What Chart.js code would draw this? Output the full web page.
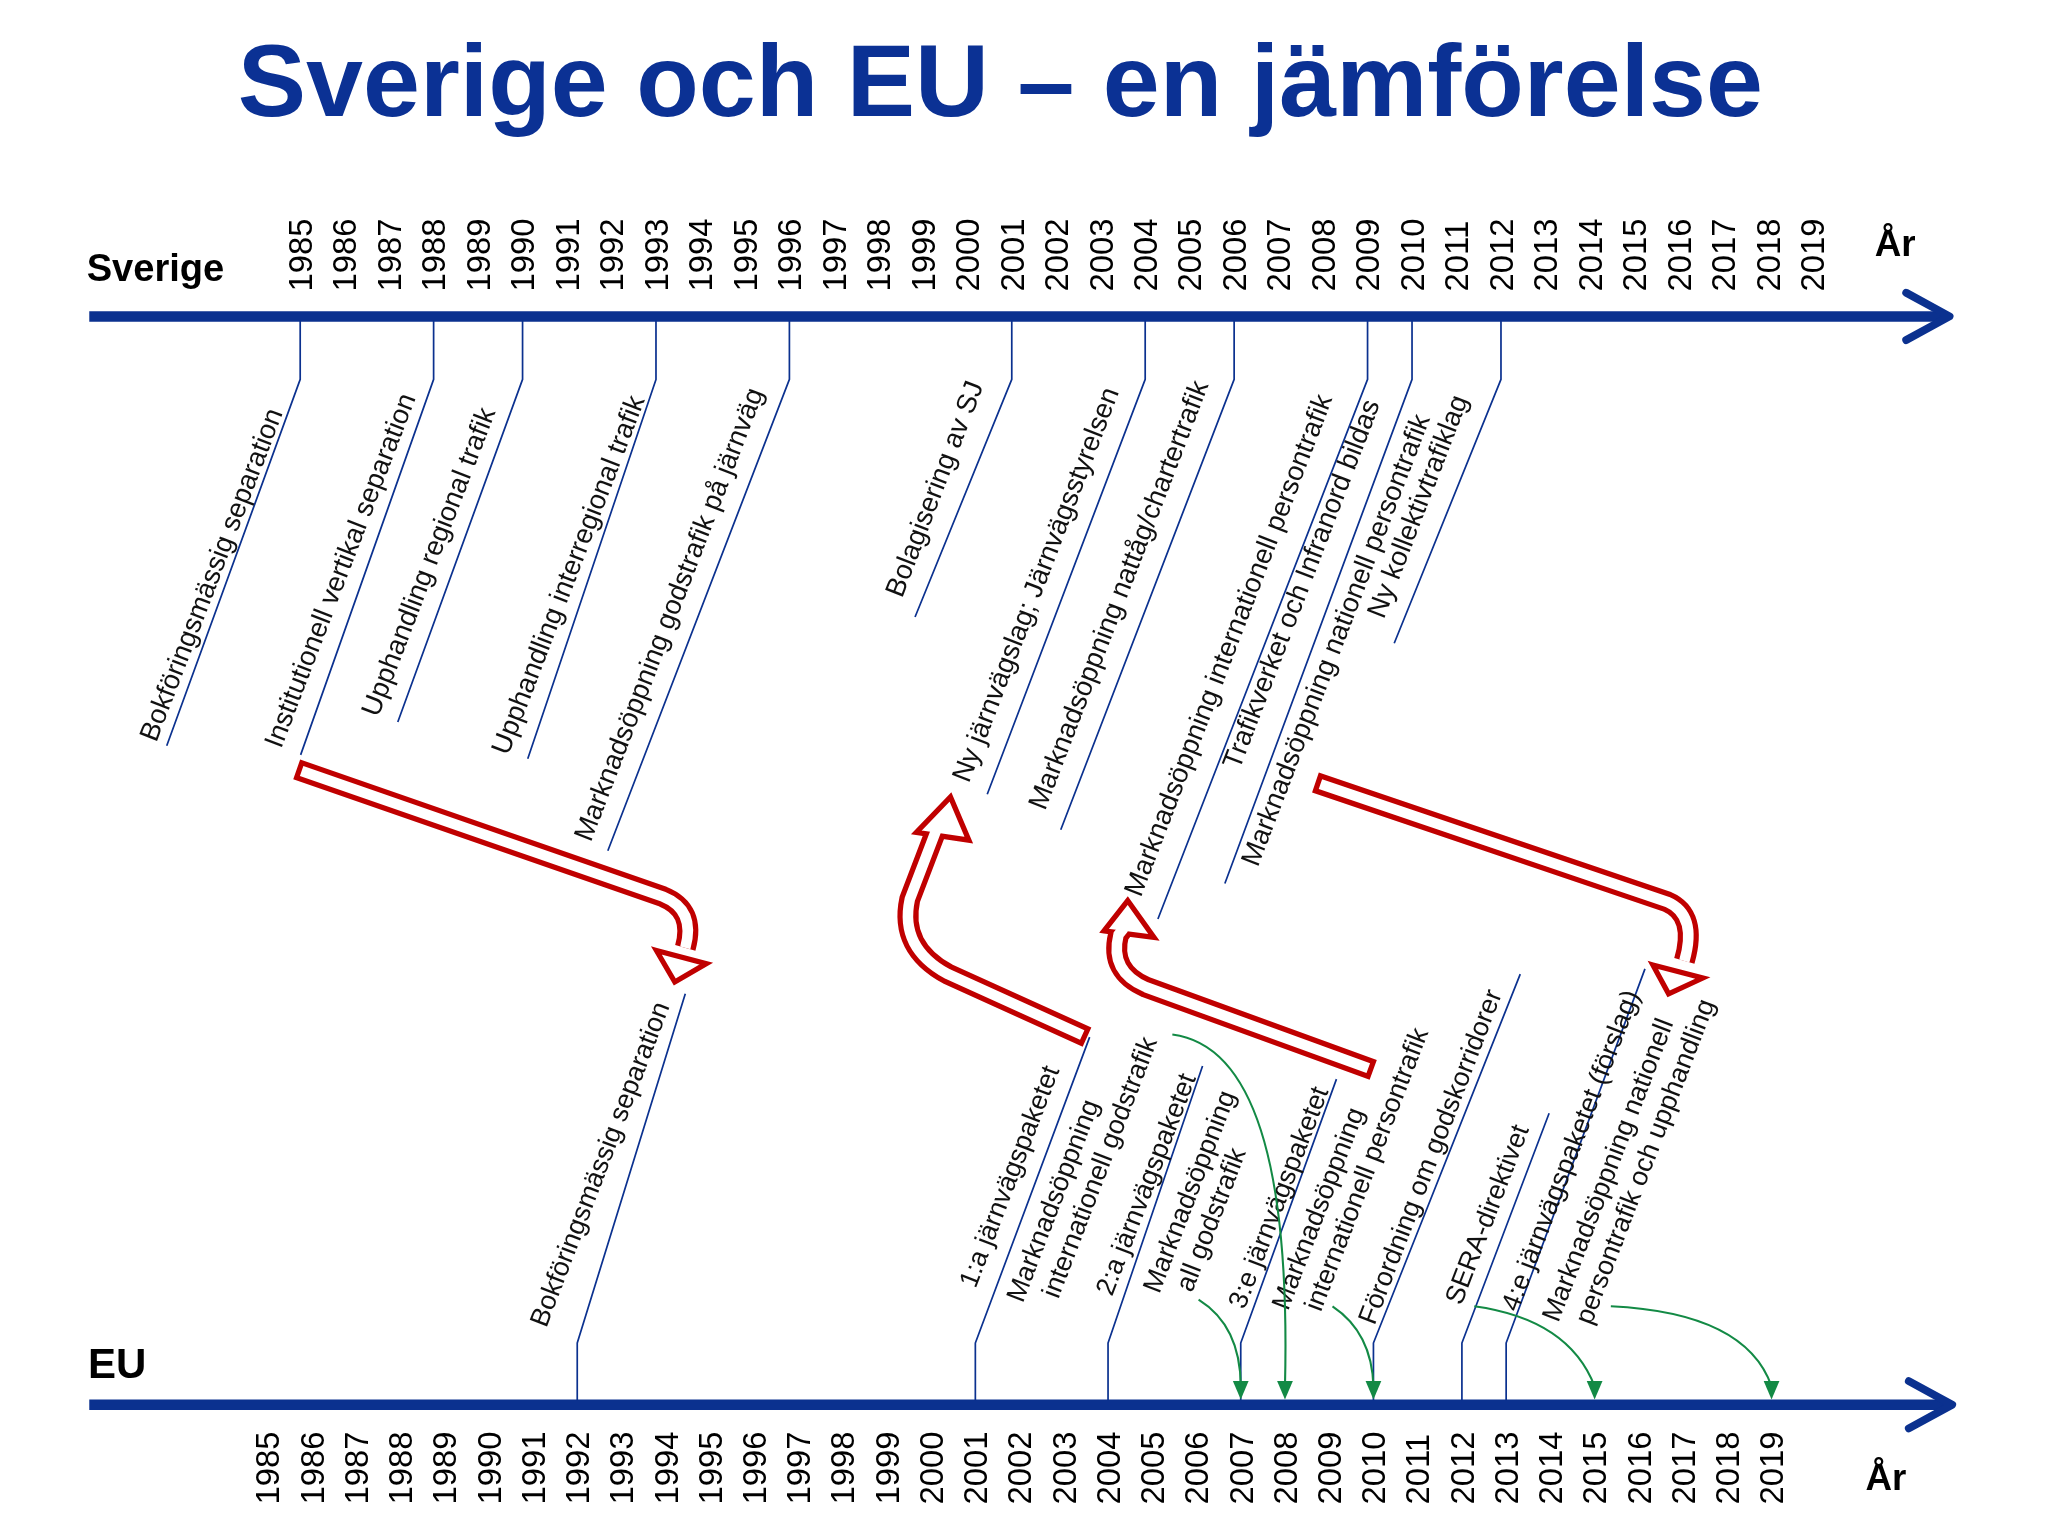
<!DOCTYPE html>
<html><head><meta charset="utf-8">
<script src="https://cdn.jsdelivr.net/npm/chart.js@4/dist/chart.umd.min.js"></script>
<style>html,body{margin:0;padding:0;background:#fff}#wrap{width:2048px;height:1536px}</style>
</head><body><div id="wrap"><canvas id="c" width="2048" height="1536"></canvas></div>
<script>
// ---- data ----
const years = Array.from({length: 35}, (_, i) => 1985 + i);
const tickLabels = years.map(String);
const sweYears = [1985, 1988, 1990, 1993, 1996, 2001, 2004, 2006, 2009, 2010, 2010, 2012];
const sweLabels = ["Bokföringsmässig separation","Institutionell vertikal separation","Upphandling regional trafik","Upphandling interregional trafik","Marknadsöppning godstrafik på järnväg","Bolagisering av SJ","Ny järnvägslag; Järnvägsstyrelsen","Marknadsöppning nattåg/chartertrafik","Marknadsöppning internationell persontrafik","Trafikverket och Infranord bildas","Marknadsöppning nationell persontrafik","Ny kollektivtrafiklag"];
const euYears = [1992, 2001, 2004, 2007, 2010, 2012, 2013];
const euLabels = ["Bokföringsmässig separation","1:a järnvägspaketet","Marknadsöppning","internationell godstrafik","2:a järnvägspaketet","Marknadsöppning","all godstrafik","3:e järnvägspaketet","Marknadsöppning","internationell persontrafik","Förordning om godskorridorer","SERA-direktivet","4:e järnvägspaketet (förslag)","Marknadsöppning nationell","persontrafik och upphandling"];
const euTargetYears = [2007, 2008, 2010, 2015, 2019]; // green arrows

// ---- layout (display units, scaled to canvas) ----
const S = 2048 / 1560;
const sweLeaderEnd = [[127,568],[229,575],[303,550],[402,578],[463,648],[697,470],[752,605],[808,632],[882,700],[933,673],null,[1062,490]];
const sweTextStart = [[119,566],[214,571],[288,547],[387,576],[450,642],[687,456],[738,597],[796,618],[869,684],[944,587],[958,661],[1054,472]];
const euLeaderEnd = [[522,757],[830,790],[916,812],[1018,822],[1158,742],[1180,848],[1253,738]];
const euTextStart = [[416,1012],[743,982],[779,993],[806,990],[847,988],[883,986],[908,985],[948,998],[981,999],[1006,1000],[1047,1010],[1113,995],[1156,1000],[1187,1008],[1212,1010]];
const greenFrom = [[913,990,945,1010],[893,788,985,800],[1015,995,1045,1015],[1123,995,1195,1005],[1227,995,1330,1000]];

const BLUE = '#0b318f', RED = '#c00000', GREEN = '#138a45';
const F = 'Liberation Sans, Arial, sans-serif';

function rotText(ctx, t, x, y, size, ang) {
  ctx.save(); ctx.translate(x, y); ctx.rotate(-ang * Math.PI / 180);
  ctx.font = size + 'px ' + F; ctx.textAlign = 'left'; ctx.textBaseline = 'alphabetic';
  ctx.fillText(t, 0, 0); ctx.restore();
}
function axisArrow(ctx, y, x0, x1) {
  ctx.strokeStyle = BLUE; ctx.lineWidth = 8; ctx.lineCap = 'butt';
  ctx.beginPath(); ctx.moveTo(x0, y); ctx.lineTo(x1 - 4, y); ctx.stroke();
  ctx.lineWidth = 6; ctx.lineCap = 'round'; ctx.lineJoin = 'round';
  ctx.beginPath(); ctx.moveTo(x1 - 33, y - 18); ctx.lineTo(x1, y); ctx.lineTo(x1 - 33, y + 18); ctx.stroke();
}
function hollow(ctx, start, build, head) {
  ctx.lineJoin = 'miter'; ctx.lineCap = 'butt';
  const [sx, sy, dx, dy] = start;
  ctx.strokeStyle = RED; ctx.lineWidth = 16; ctx.beginPath(); ctx.moveTo(sx, sy); build(); ctx.stroke();
  ctx.beginPath(); ctx.moveTo(head[0][0], head[0][1]); head.slice(1).forEach(p => ctx.lineTo(p[0], p[1])); ctx.closePath();
  ctx.lineWidth = 4; ctx.fillStyle = '#fff'; ctx.fill(); ctx.stroke();
  ctx.strokeStyle = '#fff'; ctx.lineWidth = 8; ctx.beginPath(); ctx.moveTo(sx + dx * 4, sy + dy * 4); build(); ctx.stroke();
}
function greenArrow(ctx, x0, y0, cx, cy, x1, y1) {
  ctx.strokeStyle = GREEN; ctx.fillStyle = GREEN; ctx.lineWidth = 1.6;
  ctx.beginPath(); ctx.moveTo(x0, y0); ctx.quadraticCurveTo(cx, cy, x1, y1 - 10); ctx.stroke();
  ctx.beginPath(); ctx.moveTo(x1, y1); ctx.lineTo(x1 - 6, y1 - 14); ctx.lineTo(x1 + 6, y1 - 14); ctx.closePath(); ctx.fill();
}

const drawPlugin = {
  id: 'timeline',
  afterDraw(chart) {
    const ctx = chart.ctx;
    const XT = v => chart.scales.xTop.getPixelForValue(v) / S;
    const XB = v => chart.scales.xBot.getPixelForValue(v) / S;
    ctx.save(); ctx.scale(S, S);
    ctx.fillStyle = '#fff'; ctx.fillRect(0, 0, 1560, 1170);
    ctx.fillStyle = '#0b3194'; ctx.font = 'bold 78px ' + F; ctx.textAlign = 'center';
    ctx.fillText('Sverige och EU – en jämförelse', 762, 88);
    ctx.fillStyle = '#000'; ctx.textAlign = 'left';
    ctx.font = 'bold 29px ' + F; ctx.fillText('Sverige', 66, 214);
    ctx.font = 'bold 32px ' + F; ctx.fillText('EU', 67, 1050);
    ctx.font = 'bold 28px ' + F; ctx.fillText('År', 1428, 195); ctx.fillText('År', 1421, 1135);
    tickLabels.forEach((t, i) => {
      rotText(ctx, t, XT(years[i]) + 9, 222, 25, 90);
      rotText(ctx, t, XB(years[i]) + 9, 1146, 25, 90);
    });
    axisArrow(ctx, 241, 68, 1485);
    axisArrow(ctx, 1070, 68, 1487);
    ctx.strokeStyle = BLUE; ctx.lineWidth = 1.3; ctx.lineCap = 'butt';
    sweYears.forEach((y, i) => {
      const e = sweLeaderEnd[i];
      if (e) { const x = XT(y); ctx.beginPath(); ctx.moveTo(x, 244); ctx.lineTo(x, 289); ctx.lineTo(e[0], e[1]); ctx.stroke(); }
    });
    ctx.fillStyle = '#111';
    sweLabels.forEach((t, i) => rotText(ctx, t, sweTextStart[i][0], sweTextStart[i][1], 21, 69));
    euYears.forEach((y, i) => {
      const e = euLeaderEnd[i]; const x = XB(y);
      ctx.beginPath(); ctx.moveTo(x, 1067); ctx.lineTo(x, 1023); ctx.lineTo(e[0], e[1]); ctx.stroke();
    });
    euLabels.forEach((t, i) => rotText(ctx, t, euTextStart[i][0], euTextStart[i][1], 20.5, 69));
    hollow(ctx, [226, 586, 0.94, 0.33], () => { ctx.lineTo(505, 683); ctx.quadraticCurveTo(530, 693, 522, 722); },
      [[500,724],[538,734],[514,748]]);
    hollow(ctx, [828, 790, -0.91, -0.41], () => { ctx.lineTo(722, 742); ctx.quadraticCurveTo(685, 722, 693, 685); ctx.lineTo(714, 630); },
      [[698,634],[738,640],[724,607]]);
    hollow(ctx, [1046, 815, -0.94, -0.34], () => { ctx.lineTo(873, 752); ctx.quadraticCurveTo(845, 740, 852, 712); ctx.lineTo(856, 707); },
      [[841,709],[879,714],[859,686]]);
    hollow(ctx, [1002, 596, 0.95, 0.32], () => { ctx.lineTo(1270, 687); ctx.quadraticCurveTo(1293, 697, 1283, 732); },
      [[1259,735],[1297,745],[1271,757]]);
    greenFrom.forEach((g, i) => greenArrow(ctx, g[0], g[1], g[2], g[3], XB(euTargetYears[i]), 1066));
    ctx.restore();
  }
};

new Chart(document.getElementById('c'), {
  type: 'scatter',
  data: { datasets: [
    { label: 'Sverige', data: sweYears.map(y => ({x: y, y: 241})), xAxisID: 'xTop', yAxisID: 'y', pointRadius: 0 },
    { label: 'EU', data: euYears.map(y => ({x: y, y: 1070})), xAxisID: 'xBot', yAxisID: 'y', pointRadius: 0 }
  ]},
  options: {
    responsive: false, animation: false, devicePixelRatio: 1,
    layout: { padding: 0 },
    plugins: { legend: { display: false }, tooltip: { enabled: false } },
    scales: {
      xTop: { type: 'linear', display: false, min: 1978.25, max: 2024.30 },
      xBot: { type: 'linear', display: false, min: 1978.95, max: 2025.25 },
      y: { type: 'linear', display: false, min: 0, max: 1170, reverse: true }
    }
  },
  plugins: [drawPlugin]
});
</script></body></html>
